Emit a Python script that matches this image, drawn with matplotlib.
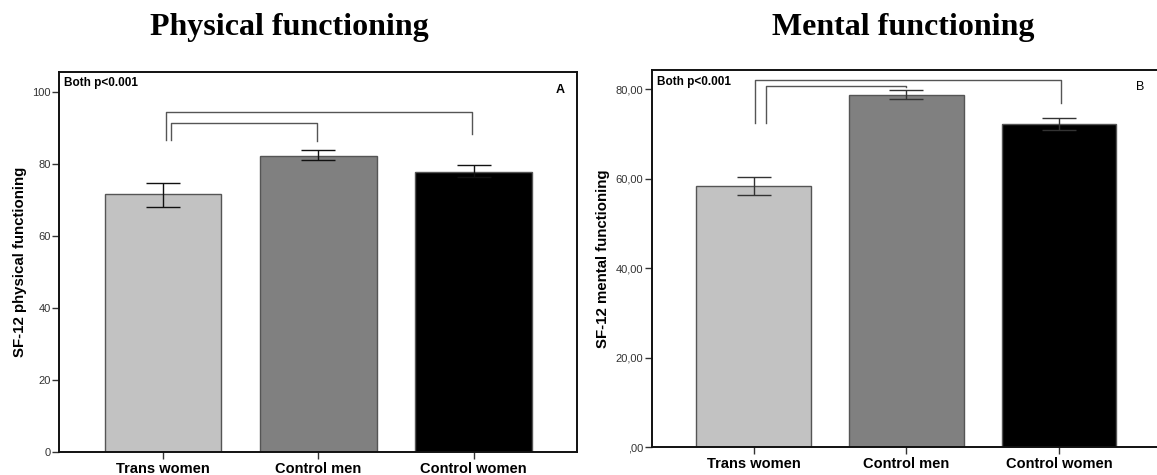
import matplotlib
matplotlib.use("Agg")
import matplotlib.pyplot as plt

categories = ["Trans women", "Control men", "Control women"]
bar_colors = ["#c2c2c2", "#808080", "#000000"]

# Panel A: physical functioning
phys_mean = [71.6, 82.2, 77.8]
phys_low = [68.1, 80.9, 76.2]
phys_high = [74.6, 83.7, 79.6]
phys_yticks = [0, 20, 40, 60, 80, 100]
phys_yticklabels = ["0", "20", "40", "60", "80", "100"]

# Panel B: mental functioning
ment_mean = [58.45, 78.8, 72.2]
ment_low = [56.4, 77.8, 70.8]
ment_high = [60.5, 79.9, 73.5]
ment_yticks = [0, 20, 40, 60, 80]
ment_yticklabels = [",00", "20,00", "40,00", "60,00", "80,00"]

# significance brackets: (x_left, x_right, y_top, y_left_end, y_right_end)
phys_brackets = [(0.017, 1.99, 94.3, 86.6, 88.3), (0.05, 0.993, 91.4, 86.6, 86.4)]
ment_brackets = [(0.01, 2.013, 82.06, 72.4, 76.85), (0.08, 1.0, 80.79, 72.4, 80.5)]

plt.rcParams["font.family"] = ["Liberation Sans", "DejaVu Sans"]

fig = plt.figure(figsize=(11.57, 4.75), dpi=100)
axA = fig.add_axes([59.3 / 1157, 1 - 452.3 / 475, 518 / 1157, (452.3 - 71.7) / 475])
axB = fig.add_axes([651.7 / 1157, 1 - 447.3 / 475, (1161 - 651.7) / 1157, (447.3 - 70) / 475])


def draw(ax, mean, low, high, yticks, yticklabels, ylim, ylabel, brackets, letter,
         letter_bold, letter_pos, ecolor):
    x = list(range(len(categories)))
    yerr = [[m - l for m, l in zip(mean, low)], [h - m for m, h in zip(mean, high)]]
    ax.bar(x, mean, width=0.75, color=bar_colors, edgecolor="#555555", linewidth=1.0, zorder=2)
    ax.errorbar(x, mean, yerr=yerr, fmt="none", ecolor=ecolor, elinewidth=1.0,
                capsize=12, capthick=1.0, zorder=3)
    for (xl, xr, yt, yle, yre) in brackets:
        ax.plot([xl, xl, xr, xr], [yle, yt, yt, yre], color="#555555", lw=1.0, zorder=1)
    ax.set_xlim(-0.667, 2.667)
    ax.set_ylim(*ylim)
    ax.set_xticks(x)
    ax.set_xticklabels(categories, fontsize=10.5, fontweight="bold")
    ax.set_yticks(yticks)
    ax.set_yticklabels(yticklabels, fontsize=8, color="#333333")
    ax.tick_params(axis="y", length=5, width=1, color="#333333", pad=1)
    ax.tick_params(axis="x", length=5, width=1, color="#333333", pad=2)
    for s in ax.spines.values():
        s.set_linewidth(1.4)
        s.set_color("#111111")
    ax.set_ylabel(ylabel, fontsize=10.8, fontweight="bold", labelpad=4)
    ax.text(0.01, 0.985, "Both p<0.001", transform=ax.transAxes, fontsize=8.5,
            fontweight="bold", va="top", ha="left")
    ax.text(letter_pos[0], letter_pos[1], letter, transform=ax.transAxes, fontsize=9,
            fontweight="bold" if letter_bold else "normal", va="top", ha="right")


draw(axA, phys_mean, phys_low, phys_high, phys_yticks, phys_yticklabels, (0, 105.5),
     "SF-12 physical functioning", phys_brackets, "A", True, (0.975, 0.967), "#111111")
draw(axB, ment_mean, ment_low, ment_high, ment_yticks, ment_yticklabels, (0, 84.3),
     "SF-12 mental functioning", ment_brackets, "B", False, (0.967, 0.970), "#333333")

fig.text(289 / 1157, 1 - 28 / 475, "Physical functioning", fontsize=23, fontweight="bold",
         family=["Liberation Serif", "DejaVu Serif"], ha="center", va="center")
fig.text(903 / 1157, 1 - 28 / 475, "Mental functioning", fontsize=23, fontweight="bold",
         family=["Liberation Serif", "DejaVu Serif"], ha="center", va="center")

fig.savefig("out.png", dpi=100)
